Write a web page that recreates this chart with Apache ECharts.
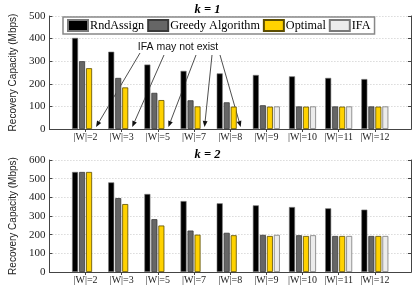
<!DOCTYPE html>
<html>
<head>
<meta charset="utf-8">
<script src="https://cdn.jsdelivr.net/npm/echarts@6/dist/echarts.min.js"></script>
<style>html,body{margin:0;padding:0;background:#fff}#c{width:415px;height:286px}</style>
</head>
<body>
<div id="c"></div>
<script>
const categories = ['|W|=2','|W|=3','|W|=5','|W|=7','|W|=8','|W|=9','|W|=10','|W|=11','|W|=12'];
const seriesNames = ['RndAssign','Greedy Algorithm','Optimal','IFA'];
// k = 1
const k1Rnd    = [403, 342, 285, 257, 246, 239, 233, 226, 221];
const k1Greedy = [300, 226, 160, 127, 118, 105, 100, 100, 100];
const k1Opt    = [269, 184, 128, 100,  99,  99,  99,  99,  99];
const k1Ifa    = [null, null, null, null, null, 100, 100, 100, 100];
// k = 2
const k2Rnd    = [536, 480, 418, 380, 368, 357, 348, 341, 334];
const k2Greedy = [536, 396, 283, 222, 210, 199, 197, 193, 193];
const k2Opt    = [536, 364, 249, 200, 197, 193, 193, 193, 193];
const k2Ifa    = [null, null, null, null, null, 199, 197, 193, 193];
const yTicks1 = [0, 100, 200, 300, 400, 500];
const yTicks2 = [0, 100, 200, 300, 400, 500, 600];
const annotationText = 'IFA may not exist';
const arrowCats = ['|W|=2','|W|=3','|W|=5','|W|=7','|W|=8'];

const SERIF = '"Liberation Serif", "Times New Roman", serif';
const SANS = '"Liberation Sans", Arial, sans-serif';
const axisData = [''].concat(categories).concat(['']);
const pad = arr => ['-'].concat(arr.map(v => v == null ? '-' : v)).concat(['-']);

const styles = [
  {color: '#000000', borderColor: '#7a7a7a', borderWidth: 0.6},
  {color: '#666666', borderColor: '#3a3a3a', borderWidth: 0.8},
  {color: '#ffd200', borderColor: '#5c4d00', borderWidth: 0.8},
  {color: '#ececec', borderColor: '#7a7a7a', borderWidth: 0.8}
];
const BAR_W = 6, BAR_GAP = 1;

const chart = echarts.init(document.getElementById('c'), null, {renderer: 'canvas'});

function xAxes(gi) {
  return [
    {type: 'category', gridIndex: gi, data: axisData, boundaryGap: false,
     axisLine: {lineStyle: {color: '#444', width: 1}},
     axisTick: {show: false},
     axisLabel: {interval: 0, fontFamily: SERIF, fontSize: 10, color: '#222', margin: 3}},
    {type: 'category', gridIndex: gi, position: 'top', data: axisData, boundaryGap: false,
     axisLine: {show: true, lineStyle: {color: '#444', width: 1}},
     axisTick: {show: true, inside: true, length: 3, interval: (i) => i > 0 && i < axisData.length - 1, lineStyle: {color: '#444'}},
     axisLabel: {show: false}, splitLine: {show: false}}
  ];
}
function yAxes(gi, ticks) {
  const max = ticks[ticks.length - 1];
  return [
    {type: 'value', gridIndex: gi, min: 0, max: max, interval: 100,
     name: 'Recovery Capacity (Mbps)', nameLocation: 'middle', nameGap: 23,
     nameTextStyle: {fontFamily: SANS, fontSize: 10, color: '#222'},
     axisLine: {show: true, lineStyle: {color: '#444'}},
     axisTick: {show: true, inside: true, length: 3, lineStyle: {color: '#444'}},
     axisLabel: {fontFamily: SERIF, fontSize: 11, color: '#222', margin: 4,
                 formatter: v => ticks.indexOf(v) >= 0 ? String(v) : ''},
     splitLine: {show: true, lineStyle: {color: '#c8c8c8', type: [1, 2], width: 1}}},
    {type: 'value', gridIndex: gi, position: 'right', min: 0, max: max, interval: 100,
     axisLine: {show: true, lineStyle: {color: '#444'}},
     axisTick: {show: true, inside: true, length: 3, lineStyle: {color: '#444'}},
     axisLabel: {show: false}, splitLine: {show: false}}
  ];
}

const dataSets = [[k1Rnd, k1Greedy, k1Opt, k1Ifa], [k2Rnd, k2Greedy, k2Opt, k2Ifa]];
const series = [];
dataSets.forEach((set, gi) => {
  set.forEach((arr, si) => {
    series.push({
      type: 'bar', name: seriesNames[si], xAxisIndex: gi * 2, yAxisIndex: gi * 2,
      data: pad(arr), barWidth: BAR_W, barGap: (BAR_GAP / BAR_W * 100) + '%',
      itemStyle: styles[si], silent: true, animation: false
    });
  });
});

const option = {
  animation: false,
  backgroundColor: '#fff',
  title: [
    {text: 'k = 1', left: 'center', top: -2, textStyle: {fontFamily: SERIF, fontSize: 12.5, fontWeight: 'bold', fontStyle: 'italic', color: '#000'}},
    {text: 'k = 2', left: 'center', top: 143, textStyle: {fontFamily: SERIF, fontSize: 12.5, fontWeight: 'bold', fontStyle: 'italic', color: '#000'}}
  ],
  legend: {
    data: seriesNames, left: 63, top: 17, itemWidth: 20, itemHeight: 11, itemGap: 3,
    icon: 'rect',
    padding: [2, 4, 2, 4], backgroundColor: '#fff', borderColor: '#888', borderWidth: 1.5,
    selectedMode: false,
    textStyle: {fontFamily: SERIF, fontSize: 12.2, color: '#000', padding: [0, 0, 0, -3]}
  },
  grid: [
    {left: 32, right: 4, top: 16, height: 113},
    {left: 32, right: 4, top: 160, height: 112}
  ],
  xAxis: xAxes(0).concat(xAxes(1)),
  yAxis: yAxes(0, yTicks1).concat(yAxes(1, yTicks2)),
  series: series
};
chart.setOption(option);

// annotation arrows pointing at the (missing) IFA slots of the k = 1 chart
const ifaOffset = 1.5 * (BAR_W + BAR_GAP);
const starts = [[140, 53], [164, 55], [196, 55], [212, 55], [220, 55]];
const graphics = [{
  type: 'text', x: 178, y: 47, silent: true,
  style: {text: annotationText, font: '10.5px ' + SANS, fill: '#111', align: 'center', verticalAlign: 'middle'}
}];
arrowCats.forEach((c, i) => {
  const p = chart.convertToPixel({gridIndex: 0}, [c, 0]);
  const tip = [p[0] + ifaOffset, p[1] - 2];
  const s = starts[i];
  const dx = tip[0] - s[0], dy = tip[1] - s[1];
  const len = Math.sqrt(dx * dx + dy * dy);
  const ux = dx / len, uy = dy / len;
  const hl = 6, hw = 2.4;
  const base = [tip[0] - ux * hl, tip[1] - uy * hl];
  graphics.push({type: 'line', silent: true, shape: {x1: s[0], y1: s[1], x2: base[0], y2: base[1]}, style: {stroke: '#222', lineWidth: 0.8}});
  graphics.push({type: 'polygon', silent: true, shape: {points: [tip, [base[0] - uy * hw, base[1] + ux * hw], [base[0] + uy * hw, base[1] - ux * hw]]}, style: {fill: '#111'}});
});
chart.setOption({graphic: graphics});
</script>
</body>
</html>
